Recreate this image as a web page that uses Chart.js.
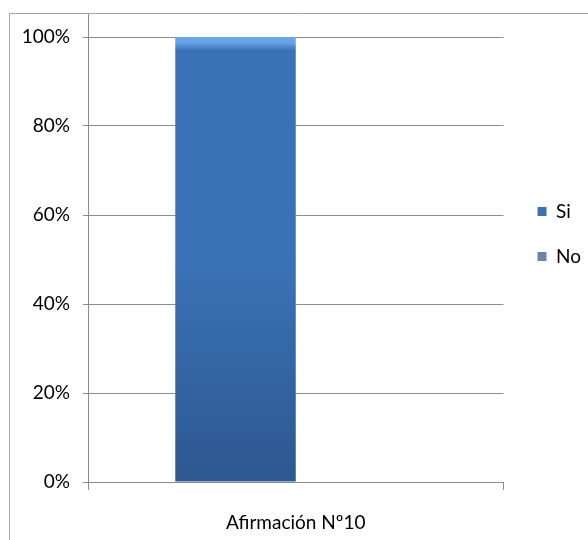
<!DOCTYPE html>
<html>
<head>
<meta charset="utf-8">
<script src="https://cdn.jsdelivr.net/npm/chart.js@4"></script>
<style>
html,body{margin:0;padding:0;background:#fff;}
#wrap{width:588px;height:540px;}
</style>
</head>
<body>
<div id="wrap"><canvas id="grafico" width="588" height="540"></canvas></div>
<script>
// datos
const categorias = ["Afirmación Nº10"];
const serieSi = [1.0];
const serieNo = [0.0];
const nombresSeries = ["Si", "No"];
const ticksY = [0, 0.2, 0.4, 0.6, 0.8, 1.0];

const gris = "#8c8c8c";
const fuente = {family: "Lato", size: 19};

function degradado(ctx, area, c1, c2, c3){
  if(!area) return c2;
  const g = ctx.createLinearGradient(0, area.top, 0, area.bottom);
  g.addColorStop(0, c1);
  g.addColorStop(0.012, c1);
  g.addColorStop(0.03, c2);
  g.addColorStop(0.5, c2);
  g.addColorStop(1, c3);
  return g;
}

// marco exterior, prolongacion del eje Y y ubicacion de la leyenda
const marco = {
  id: "marco",
  afterLayout(chart){
    const lg = chart.legend;
    const w = lg.width;
    lg.left = chart.chartArea.right + 8;
    lg.right = lg.left + w;
    const h = lg.height;
    lg.top = 176;
    lg.bottom = lg.top + h;
  },
  afterDraw(chart){
    const c = chart.ctx;
    const a = chart.chartArea;
    c.save();
    c.strokeStyle = "#a6a6a6";
    c.lineWidth = 1;
    c.beginPath();
    c.moveTo(9.5, chart.height);
    c.lineTo(9.5, 13.5);
    c.lineTo(chart.width, 13.5);
    c.stroke();
    c.strokeStyle = gris;
    c.beginPath();
    c.moveTo(Math.round(a.left) + 0.5, a.top);
    c.lineTo(Math.round(a.left) + 0.5, 13.5);
    c.stroke();
    c.restore();
  }
};

new Chart(document.getElementById("grafico"), {
  type: "bar",
  data: {
    labels: categorias,
    datasets: [
      {
        label: nombresSeries[0],
        data: serieSi,
        backgroundColor: function(context){
          const ch = context.chart;
          return degradado(ch.ctx, ch.chartArea, "#6aa4e8", "#3b72b7", "#2d5890");
        },
        borderWidth: 0
      },
      {
        label: nombresSeries[1],
        data: serieNo,
        backgroundColor: "#6a83ac",
        borderWidth: 0
      }
    ]
  },
  options: {
    responsive: false,
    animation: false,
    layout: {
      padding: {top: 37, right: 5, bottom: 0, left: 0}
    },
    datasets: {
      bar: {categoryPercentage: 0.58, barPercentage: 1.0}
    },
    plugins: {
      tooltip: {enabled: false},
      legend: {
        position: "right",
        align: "start",
        labels: {
          boxWidth: 9,
          boxHeight: 9,
          padding: 26,
          color: "#000",
          font: fuente
        }
      }
    },
    scales: {
      x: {
        afterFit: function(scale){ scale.height = 58; },
        grid: {drawOnChartArea: false, drawTicks: true, tickLength: 8, color: gris},
        border: {color: gris},
        ticks: {color: "#000", padding: 21, font: fuente}
      },
      y: {
        min: 0,
        max: 1,
        afterFit: function(scale){ scale.width = 88; },
        afterBuildTicks: function(scale){
          scale.ticks = ticksY.map(v => ({value: v}));
        },
        grid: {color: gris, tickLength: 5},
        border: {color: gris},
        ticks: {
          color: "#000",
          padding: 13,
          font: fuente,
          callback: v => Math.round(v * 100) + "%"
        }
      }
    }
  },
  plugins: [marco]
});
</script>
</body>
</html>
